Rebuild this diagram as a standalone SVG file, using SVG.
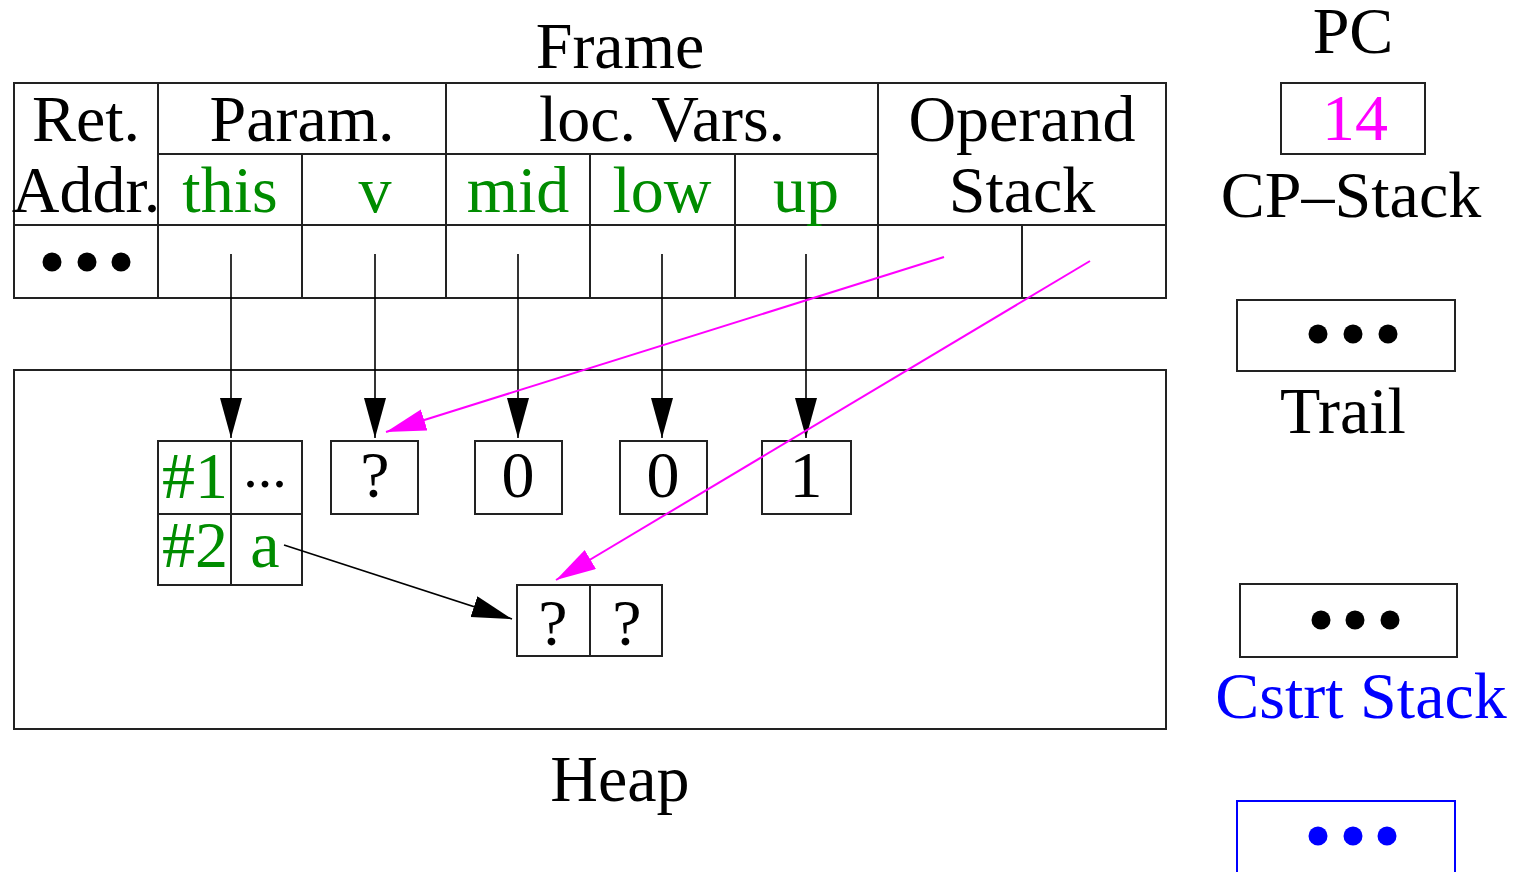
<svg xmlns="http://www.w3.org/2000/svg" width="1515" height="872" viewBox="0 0 1515 872">
  <style>
    text { font-family: "Liberation Serif", "Times New Roman", serif; font-size: 66px; text-anchor: middle; fill: #000; }
    .g { fill: #008c00; }
    .m { fill: #ff00ff; }
    .b { fill: #0000ff; }
    .box { fill: none; stroke: #222; stroke-width: 2; }
    .rule { stroke: #222; stroke-width: 2; fill: none; }
    .ptr { stroke: #000; stroke-width: 1.6; fill: none; }
    .ptrm { stroke: #ff00ff; stroke-width: 2; fill: none; }
  </style>
  <defs>
    <marker id="headK" markerUnits="userSpaceOnUse" markerWidth="42" markerHeight="24" refX="40" refY="11" orient="auto" viewBox="0 0 42 24">
      <path d="M0,0 L40,11 L0,22 Z" fill="#000"/>
    </marker>
    <marker id="headM" markerUnits="userSpaceOnUse" markerWidth="42" markerHeight="24" refX="40" refY="11" orient="auto" viewBox="0 0 42 24">
      <path d="M0,0 L40,11 L0,22 Z" fill="#ff00ff"/>
    </marker>
  </defs>

  <rect width="1515" height="872" fill="#fff"/>

  <!-- stack frame table -->
  <g id="frame">
    <text x="620" y="68">Frame</text>
    <rect class="box" x="14" y="83" width="1152" height="215"/>
    <path class="rule" d="M14,225 H1166 M158,154 H878 M158,83 V298 M302,154 V298 M446,83 V298 M590,154 V298 M735,154 V298 M878,83 V298 M1022,225 V298"/>
    <text x="86" y="141">Ret.</text>
    <text x="86" y="212">Addr.</text>
    <text x="302" y="141">Param.</text>
    <text x="662" y="141">loc. Vars.</text>
    <text x="1022" y="141">Operand</text>
    <text x="1022" y="212">Stack</text>
    <text class="g" x="230" y="212">this</text>
    <text class="g" x="375" y="212">v</text>
    <text class="g" x="518" y="212">mid</text>
    <text class="g" x="662" y="212">low</text>
    <text class="g" x="806" y="212">up</text>
    <circle cx="52" cy="262" r="9.5"/>
    <circle cx="87" cy="262" r="9.5"/>
    <circle cx="121" cy="262" r="9.5"/>
  </g>

  <!-- heap area -->
  <g id="heap">
    <rect class="box" x="14" y="370" width="1152" height="359"/>
    <text x="620" y="801">Heap</text>
  </g>

  <!-- object with two fields -->
  <g id="obj">
    <rect class="box" x="158" y="441" width="144" height="144"/>
    <path class="rule" d="M231,441 V585 M158,514 H302"/>
    <text class="g" x="195" y="498">#1</text>
    <text x="265" y="487" style="font-size:58px">...</text>
    <text class="g" x="195" y="567">#2</text>
    <text class="g" x="265" y="567">a</text>
  </g>

  <g id="cell-v">
    <rect class="box" x="331" y="441" width="87" height="73"/>
    <text x="375" y="497">?</text>
  </g>
  <g id="cell-mid">
    <rect class="box" x="475" y="441" width="87" height="73"/>
    <text x="518" y="497">0</text>
  </g>
  <g id="cell-low">
    <rect class="box" x="620" y="441" width="87" height="73"/>
    <text x="663" y="497">0</text>
  </g>
  <g id="cell-up">
    <rect class="box" x="762" y="441" width="89" height="73"/>
    <text x="806" y="497">1</text>
  </g>

  <g id="pair">
    <rect class="box" x="517" y="585" width="145" height="71"/>
    <path class="rule" d="M590,585 V656"/>
    <text x="553" y="645">?</text>
    <text x="627" y="645">?</text>
  </g>

  <!-- machine registers and stacks -->
  <g id="pc">
    <text x="1353" y="53">PC</text>
    <rect class="box" x="1281" y="83" width="144" height="71"/>
    <text class="m" x="1355" y="140">14</text>
  </g>
  <g id="cp-stack">
    <text x="1351" y="217">CP–Stack</text>
  </g>
  <g id="trail">
    <rect class="box" x="1237" y="300" width="218" height="71"/>
    <circle cx="1318" cy="334" r="9.5"/>
    <circle cx="1353" cy="334" r="9.5"/>
    <circle cx="1388" cy="334" r="9.5"/>
    <text x="1343" y="433">Trail</text>
  </g>
  <g id="cstrt">
    <rect class="box" x="1240" y="584" width="217" height="73"/>
    <circle cx="1321" cy="620" r="9.5"/>
    <circle cx="1355" cy="620" r="9.5"/>
    <circle cx="1390" cy="620" r="9.5"/>
    <text class="b" x="1361" y="718">Cstrt Stack</text>
  </g>
  <g id="cstrt-entry">
    <rect x="1237" y="801" width="218" height="80" fill="none" stroke="#0000ff" stroke-width="2"/>
    <circle class="b" cx="1318" cy="836" r="9.5"/>
    <circle class="b" cx="1353" cy="836" r="9.5"/>
    <circle class="b" cx="1387" cy="836" r="9.5"/>
  </g>

  <!-- pointers -->
  <g id="connectors">
    <line class="ptr" x1="231" y1="254" x2="231" y2="438" marker-end="url(#headK)"/>
    <line class="ptr" x1="375" y1="254" x2="375" y2="438" marker-end="url(#headK)"/>
    <line class="ptr" x1="518" y1="254" x2="518" y2="438" marker-end="url(#headK)"/>
    <line class="ptr" x1="662" y1="254" x2="662" y2="438" marker-end="url(#headK)"/>
    <line class="ptr" x1="806" y1="254" x2="806" y2="438" marker-end="url(#headK)"/>
    <line class="ptr" x1="284" y1="545" x2="512" y2="619" marker-end="url(#headK)"/>
    <line class="ptrm" x1="944" y1="257" x2="386" y2="432" marker-end="url(#headM)"/>
    <line class="ptrm" x1="1090" y1="261" x2="556" y2="580" marker-end="url(#headM)"/>
  </g>
</svg>
